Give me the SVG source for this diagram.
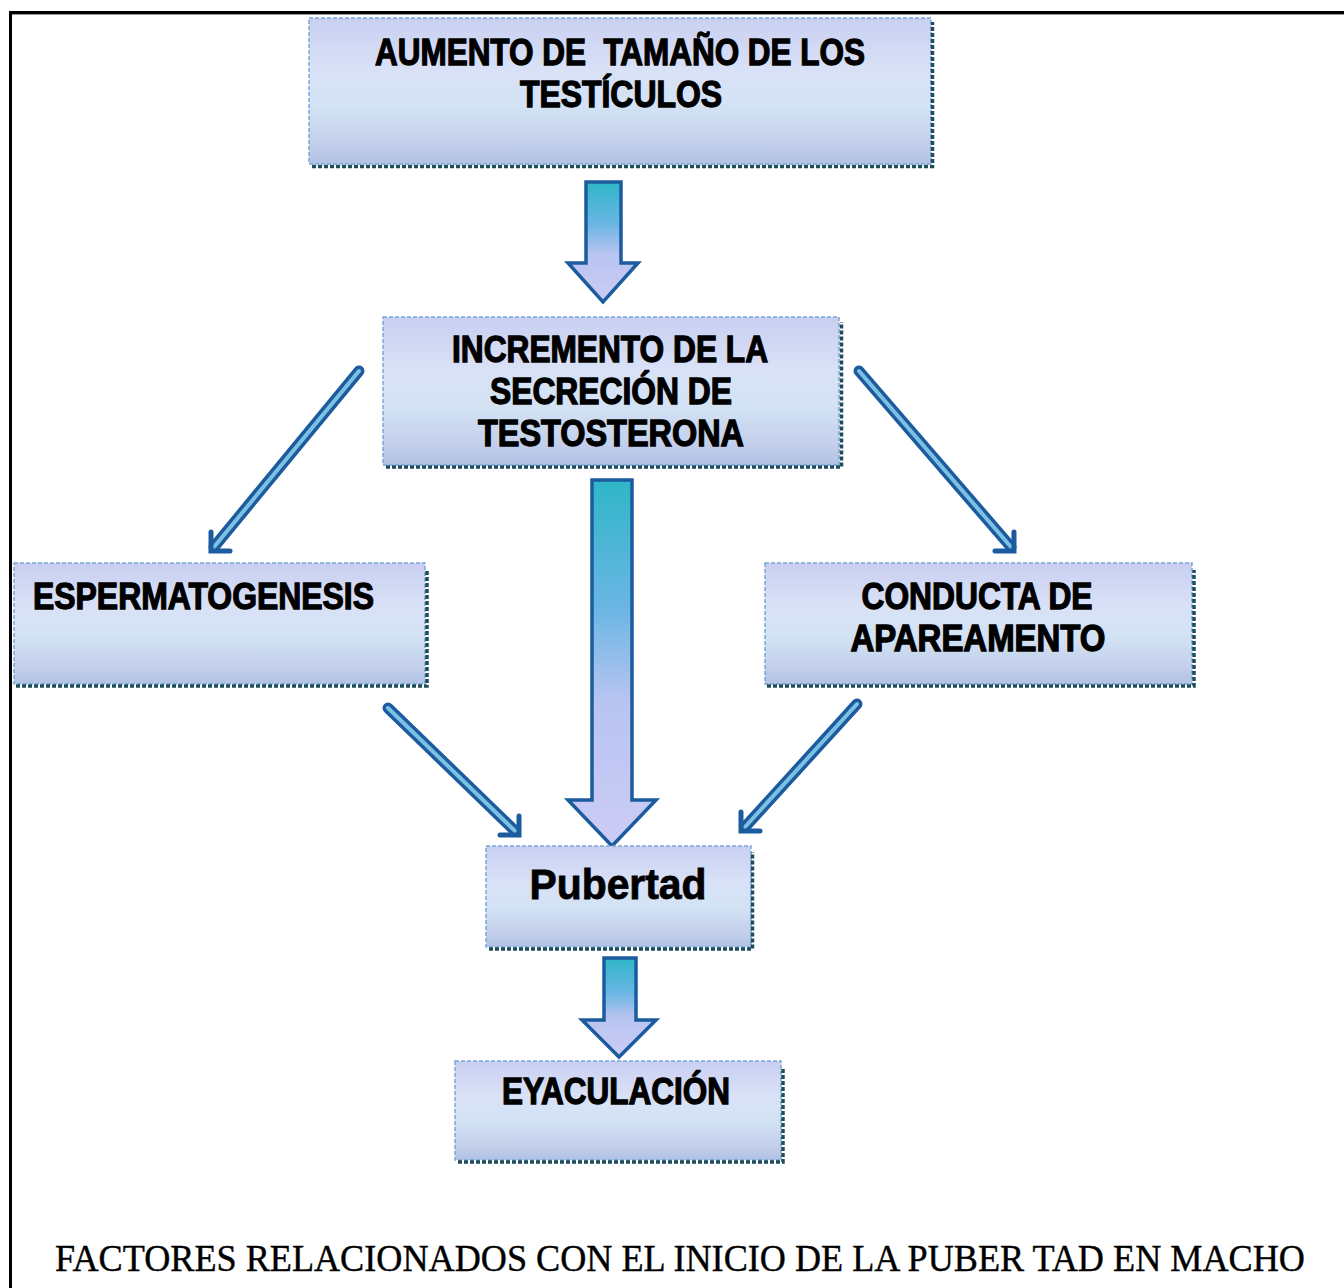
<svg xmlns="http://www.w3.org/2000/svg" width="1344" height="1288" viewBox="0 0 1344 1288">
<defs>
<linearGradient id="boxFill" x1="0" y1="0" x2="0" y2="1">
<stop offset="0" stop-color="#c9cff1"/>
<stop offset="0.35" stop-color="#d9e1f7"/>
<stop offset="0.6" stop-color="#d3e3f4"/>
<stop offset="0.85" stop-color="#c4d0ec"/>
<stop offset="1" stop-color="#b2c2e4"/>
</linearGradient>
<linearGradient id="arrFill" x1="0" y1="0" x2="0" y2="1">
<stop offset="0" stop-color="#2fb6c8"/>
<stop offset="0.35" stop-color="#6ab6e4"/>
<stop offset="0.6" stop-color="#b8c4f0"/>
<stop offset="1" stop-color="#ccccf6"/>
</linearGradient>
<style>
.box{fill:url(#boxFill);stroke:#7aa6d6;stroke-width:1.5;stroke-dasharray:4 2}
.shadow{fill:none;stroke:#1d4c5c;stroke-width:3.5;stroke-dasharray:4 2}
.lbl{font-family:"Liberation Sans",Arial,sans-serif;font-weight:bold;font-size:37px;fill:#000;stroke:#000;stroke-width:1.3;white-space:pre}
.block{fill:url(#arrFill);stroke:#1b5b9e;stroke-width:3.5;stroke-linejoin:miter}
.thinOut{fill:none;stroke:#1b5b9e;stroke-width:11;stroke-linecap:round}
.thinIn{fill:none;stroke:#7cc0e4;stroke-width:4;stroke-linecap:round}
.barb{fill:none;stroke:#1b5b9e;stroke-width:5;stroke-linecap:round;stroke-linejoin:miter}
.caption{font-family:"Liberation Serif","Times New Roman",serif;font-size:37px;fill:#000;stroke:#000;stroke-width:0.4}
</style>
</defs>
<rect width="1344" height="1288" fill="#ffffff"/>
<path d="M10.5,1288 V12.5 H1344" fill="none" stroke="#000" stroke-width="3"/>
<path d="M12,14.5 H1344" fill="none" stroke="#999" stroke-width="1"/>

<g id="connectors">
<path class="block" d="M586,182 H621 V263 H638 L603,302 L568,263 H586 Z"/>
<path class="block" d="M592,480 H632 V800 H656 L612,846 L568,800 H592 Z"/>
<path class="block" d="M604,958 H636 V1020 H656 L619,1057 L582,1020 H604 Z"/>
<g id="arrow-left-up">
<path class="thinOut" d="M359,371 L214,547"/>
<path class="thinIn" d="M359,371 L214,547"/>
<path class="barb" d="M230,551 H211 V532"/>
</g>
<g id="arrow-right-up">
<path class="thinOut" d="M859,371 L1011,547"/>
<path class="thinIn" d="M859,371 L1011,547"/>
<path class="barb" d="M995,551 H1014 V532"/>
</g>
<g id="arrow-left-down">
<path class="thinOut" d="M388,708 L515,831"/>
<path class="thinIn" d="M388,708 L515,831"/>
<path class="barb" d="M500,835 H519 V816"/>
</g>
<g id="arrow-right-down">
<path class="thinOut" d="M857,704 L745,827"/>
<path class="thinIn" d="M857,704 L745,827"/>
<path class="barb" d="M760,831 H741 V812"/>
</g>
</g>

<g id="node-aumento">
<rect class="box" x="309" y="18" width="622" height="146"/>
<path class="shadow" d="M312,166.5 H932.5 V22"/>
<text class="lbl" x="620" y="65" text-anchor="middle" textLength="490" lengthAdjust="spacingAndGlyphs">AUMENTO DE  TAMAÑO DE LOS</text>
<text class="lbl" x="621" y="107" text-anchor="middle" textLength="202" lengthAdjust="spacingAndGlyphs">TESTÍCULOS</text>
</g>

<g id="node-incremento">
<rect class="box" x="383" y="317" width="456" height="148"/>
<path class="shadow" d="M386,467 H841.5 V322"/>
<text class="lbl" x="610" y="362" text-anchor="middle" textLength="316" lengthAdjust="spacingAndGlyphs">INCREMENTO DE LA</text>
<text class="lbl" x="611" y="404" text-anchor="middle" textLength="242" lengthAdjust="spacingAndGlyphs">SECRECIÓN DE</text>
<text class="lbl" x="611" y="446" text-anchor="middle" textLength="266" lengthAdjust="spacingAndGlyphs">TESTOSTERONA</text>
</g>

<g id="node-espermatogenesis">
<rect class="box" x="14" y="563" width="411" height="121"/>
<path class="shadow" d="M16,686 H427 V570"/>
<text class="lbl" x="33" y="609" textLength="341" lengthAdjust="spacingAndGlyphs">ESPERMATOGENESIS</text>
</g>

<g id="node-conducta">
<rect class="box" x="765" y="563" width="427" height="121"/>
<path class="shadow" d="M767,686 H1194 V570"/>
<text class="lbl" x="977" y="609" text-anchor="middle" textLength="231" lengthAdjust="spacingAndGlyphs">CONDUCTA DE</text>
<text class="lbl" x="978" y="651" text-anchor="middle" textLength="255" lengthAdjust="spacingAndGlyphs">APAREAMENTO</text>
</g>

<g id="node-pubertad">
<rect class="box" x="486" y="846" width="265" height="101"/>
<path class="shadow" d="M489,949 H752.5 V852"/>
<text class="lbl" x="618" y="899" text-anchor="middle" textLength="177" lengthAdjust="spacingAndGlyphs" style="font-size:42px;stroke-width:0.8">Pubertad</text>
</g>

<g id="node-eyaculacion">
<rect class="box" x="455" y="1061" width="326" height="99"/>
<path class="shadow" d="M458,1162 H783 V1068"/>
<text class="lbl" x="616" y="1104" text-anchor="middle" textLength="228" lengthAdjust="spacingAndGlyphs">EYACULACIÓN</text>
</g>

<g id="caption">
<text class="caption" x="55" y="1271" textLength="1250" lengthAdjust="spacingAndGlyphs">FACTORES RELACIONADOS CON EL INICIO DE LA PUBER TAD EN MACHO</text>
</g>
</svg>
